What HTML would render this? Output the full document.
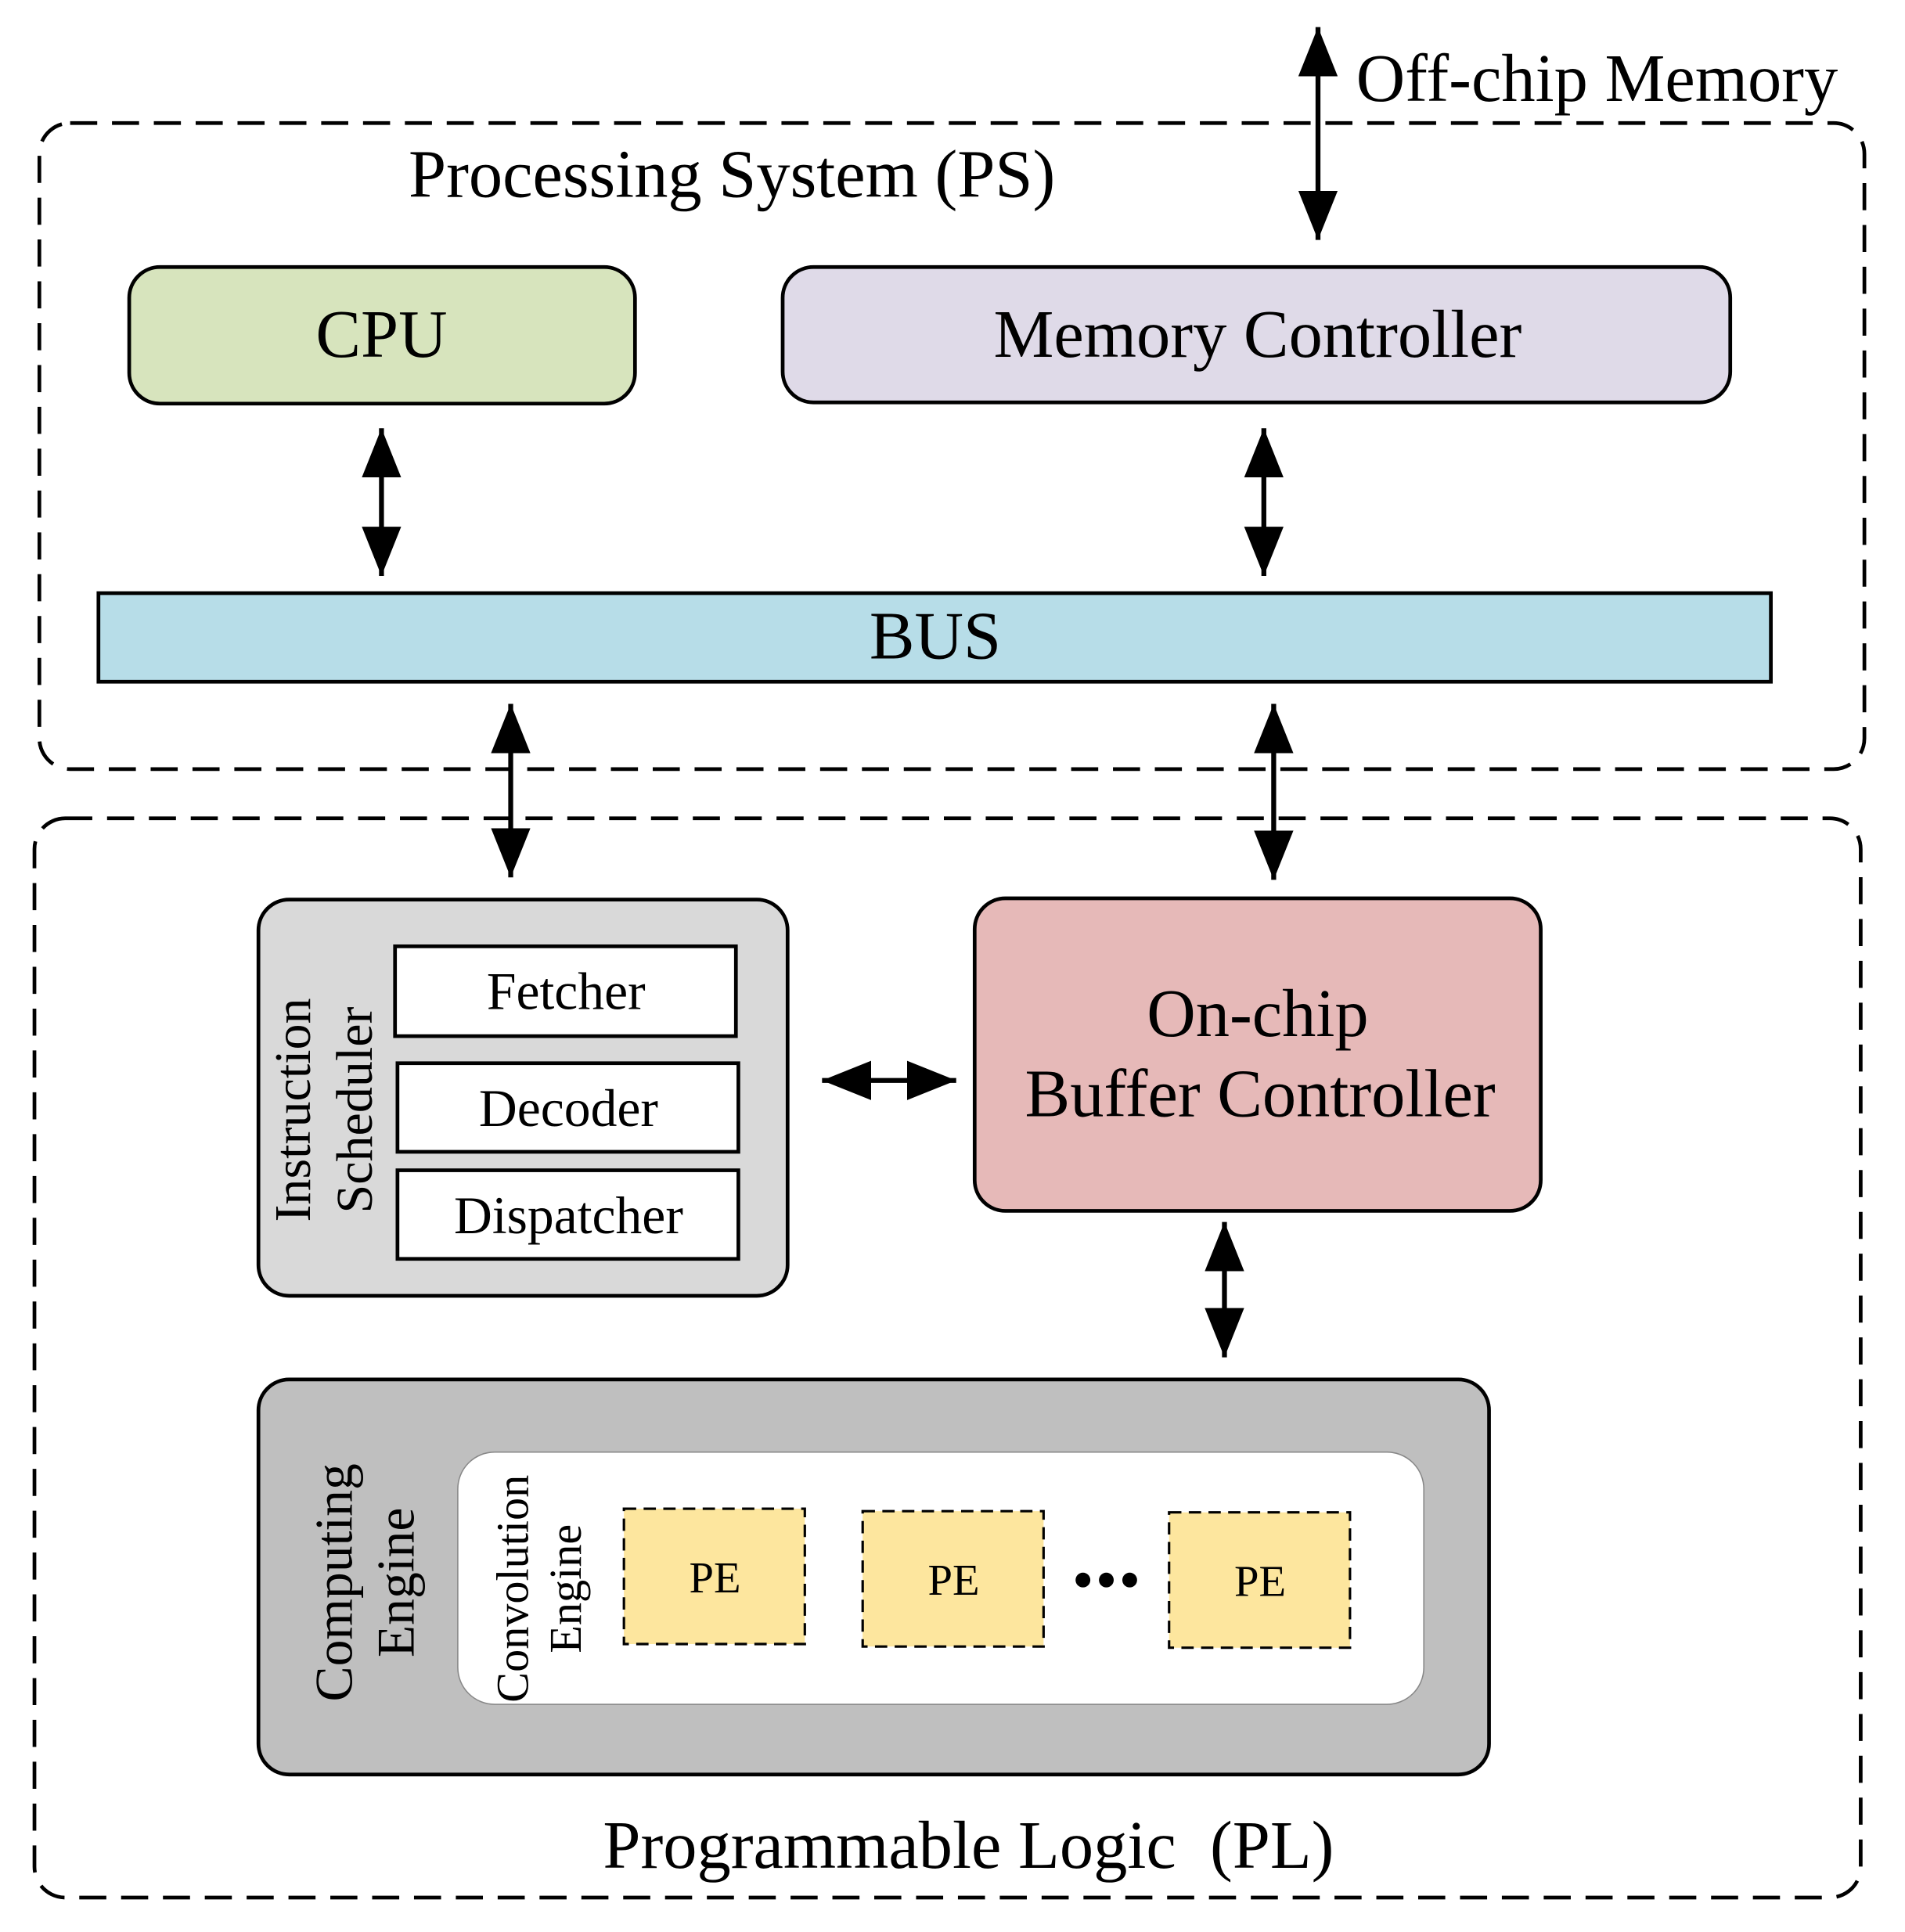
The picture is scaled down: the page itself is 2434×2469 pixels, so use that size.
<!DOCTYPE html>
<html><head><meta charset="utf-8"><style>
html,body{margin:0;padding:0;background:#fff;}
svg{display:block;}
text{font-family:"Liberation Serif",serif;fill:#000;}
</style></head><body>
<svg width="2434" height="2469" viewBox="0 0 1548 1570" preserveAspectRatio="none" xmlns="http://www.w3.org/2000/svg">
<defs>
<marker id="ah" markerUnits="userSpaceOnUse" markerWidth="42" markerHeight="32" refX="40" refY="16" orient="auto-start-reverse">
<path d="M0,0 L40,16 L0,32 Z" fill="#000"/>
</marker>
</defs>
<g fill="none" stroke="#000" stroke-width="3" stroke-dasharray="22,12">
<rect x="32" y="100" width="1483" height="525" rx="25"/>
<rect x="28" y="665" width="1484" height="877" rx="25"/>
</g>
<text x="1102" y="82" font-size="55">Off-chip Memory</text>
<text x="332" y="160" font-size="55">Processing System (PS)</text>
<g stroke="#000" stroke-width="3">
<rect x="105" y="217" width="411" height="111" rx="25" fill="#d7e4bd"/>
<rect x="636" y="217" width="770" height="110" rx="25" fill="#dfdae8"/>
<rect x="80" y="482" width="1359" height="72" fill="#b7dde8"/>
<rect x="210" y="731" width="430" height="322" rx="25" fill="#d9d9d9"/>
<rect x="321" y="769" width="277" height="73" fill="#fff"/>
<rect x="323" y="864" width="277" height="72" fill="#fff"/>
<rect x="323" y="951" width="277" height="72" fill="#fff"/>
<rect x="792" y="730" width="460" height="254" rx="25" fill="#e6b9b8"/>
<rect x="210" y="1121" width="1000" height="321" rx="25" fill="#bfbfbf"/>
</g>
<rect x="372" y="1180" width="785" height="205" rx="30" fill="#fff" stroke="#888" stroke-width="1"/>
<g fill="#fde69e" stroke="#000" stroke-width="2" stroke-dasharray="10,6">
<rect x="507" y="1226" width="147" height="110"/>
<rect x="701" y="1228" width="147" height="110"/>
<rect x="950" y="1229" width="147" height="110"/>
</g>
<g stroke="#000" stroke-width="4" marker-start="url(#ah)" marker-end="url(#ah)">
<line x1="1071" y1="22" x2="1071" y2="195"/>
<line x1="310" y1="348" x2="310" y2="468"/>
<line x1="1027" y1="348" x2="1027" y2="468"/>
<line x1="415" y1="572" x2="415" y2="713"/>
<line x1="1035" y1="572" x2="1035" y2="715"/>
<line x1="668" y1="878" x2="777" y2="878"/>
<line x1="995" y1="993" x2="995" y2="1103"/>
</g>
<g font-size="55" text-anchor="middle">
<text x="310" y="290">CPU</text>
<text x="1022" y="290">Memory Controller</text>
<text x="760" y="535">BUS</text>
<text x="1022" y="842">On-chip</text>
<text x="1024" y="907">Buffer Controller</text>
<text x="787" y="1518" style="white-space:pre">Programmable Logic  (PL)</text>
</g>
<g font-size="43" text-anchor="middle">
<text x="460" y="820">Fetcher</text>
<text x="462" y="915">Decoder</text>
<text x="462" y="1002">Dispatcher</text>
<text x="581" y="1294" font-size="36">PE</text>
<text x="775" y="1296" font-size="36">PE</text>
<text x="1024" y="1297" font-size="36">PE</text>
<text transform="translate(252,902) rotate(-90)" font-size="42">Instruction</text>
<text transform="translate(302,902) rotate(-90)" font-size="42">Scheduler</text>
<text transform="translate(286,1286) rotate(-90)">Computing</text>
<text transform="translate(336,1286) rotate(-90)">Engine</text>
<text transform="translate(429,1291) rotate(-90)" font-size="37">Convolution</text>
<text transform="translate(472,1291) rotate(-90)" font-size="37">Engine</text>
</g>
<g fill="#000">
<circle cx="880" cy="1284" r="6"/>
<circle cx="899" cy="1284" r="6"/>
<circle cx="918" cy="1284" r="6"/>
</g>
</svg>
</body></html>
